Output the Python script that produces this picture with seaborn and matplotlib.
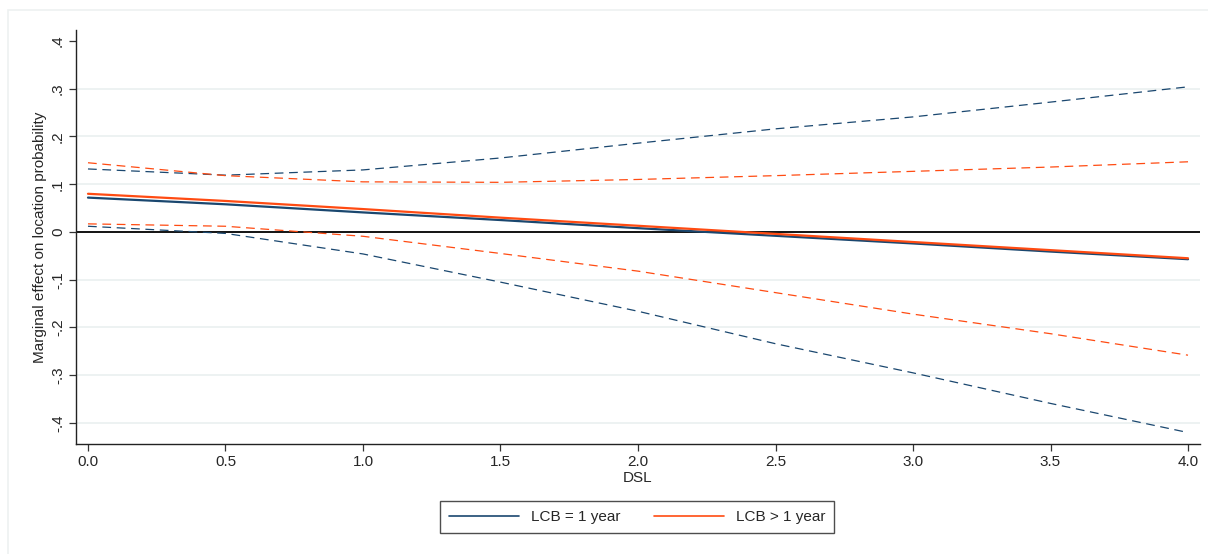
import matplotlib
matplotlib.use("Agg")
import matplotlib.pyplot as plt
from matplotlib.patches import Rectangle
import seaborn as sns
import pandas as pd

# ---- data ----
dsl = [0.0, 0.5, 1.0, 1.5, 2.0, 2.5, 3.0, 3.5, 4.0]
lcb1_me = [0.072, 0.058, 0.041, 0.025, 0.008, -0.008, -0.024, -0.041, -0.057]
lcb1_hi = [0.132, 0.119, 0.130, 0.155, 0.186, 0.216, 0.241, 0.272, 0.304]
lcb1_lo = [0.012, -0.003, -0.046, -0.105, -0.166, -0.234, -0.295, -0.359, -0.420]
lcb2_me = [0.080, 0.065, 0.048, 0.030, 0.013, -0.004, -0.021, -0.038, -0.055]
lcb2_hi = [0.145, 0.118, 0.105, 0.104, 0.110, 0.118, 0.127, 0.136, 0.147]
lcb2_lo = [0.017, 0.012, -0.009, -0.045, -0.082, -0.127, -0.172, -0.213, -0.258]
series_labels = ["LCB = 1 year", "LCB > 1 year"]
yticks = [-0.4, -0.3, -0.2, -0.1, 0.0, 0.1, 0.2, 0.3, 0.4]
ytick_labels = ["-.4", "-.3", "-.2", "-.1", "0", ".1", ".2", ".3", ".4"]
xticks = [0.0, 0.5, 1.0, 1.5, 2.0, 2.5, 3.0, 3.5, 4.0]

sns.set_theme(style="white")
plt.rcParams["font.family"] = ["Liberation Sans", "DejaVu Sans"]

BLUE = "#1a476f"
ORANGE = "#ff4b12"
FS = 11

fig = plt.figure(figsize=(12.08, 5.54), dpi=100)
ax = fig.add_axes([76 / 1208, 1 - 444 / 554, (1200 - 76) / 1208, (444 - 30) / 554])

# faint outer frame
fig.patches.append(Rectangle((8 / 1208, -0.01), 1.02, 1 - 10 / 554 + 0.01,
                             transform=fig.transFigure, fill=False,
                             edgecolor="#edf1f1", linewidth=1.2))

# gridlines
for yv in yticks[:-1]:
    if yv != 0:
        ax.axhline(yv, color="#eaf0f0", linewidth=1.2, zorder=0)
ax.axhline(0, color="black", linewidth=1.3, zorder=1)

dash = (7, 4.5)
for lo, hi, col in [(lcb1_lo, lcb1_hi, BLUE), (lcb2_lo, lcb2_hi, ORANGE)]:
    for s in (hi, lo):
        sns.lineplot(x=dsl, y=s, ax=ax, color=col, linewidth=0.9,
                     legend=False, zorder=2).lines[-1].set_dashes(dash)

sns.lineplot(x=dsl, y=lcb1_me, ax=ax, color=BLUE, linewidth=1.6,
             label=series_labels[0], zorder=3)
sns.lineplot(x=dsl, y=lcb2_me, ax=ax, color=ORANGE, linewidth=1.6,
             label=series_labels[1], zorder=3)

ax.set_xlim(-0.0436, 4.0436)
ax.set_ylim(-0.444, 0.423)
ax.set_xticks(xticks)
ax.set_xticklabels([f"{v:.1f}" for v in xticks], fontsize=FS)
ax.set_yticks(yticks)
ax.set_yticklabels(ytick_labels, fontsize=FS, rotation=90, va="center")
ax.tick_params(axis="both", which="both", direction="out", length=5, width=0.9,
               color="#333333", bottom=True, left=True, pad=3)
ax.grid(False)

for side in ("top", "right"):
    ax.spines[side].set_visible(False)
for side in ("left", "bottom"):
    ax.spines[side].set_color("#222222")
    ax.spines[side].set_linewidth(1.0)

ax.set_xlabel("DSL", fontsize=FS, labelpad=1)
ax.set_ylabel("Marginal effect on location probability", fontsize=FS, labelpad=3)

leg = ax.legend(loc="center", bbox_to_anchor=(637 / 1208, 37 / 554),
                bbox_transform=fig.transFigure, ncol=2, fontsize=FS,
                frameon=True, fancybox=False, handlelength=4.6,
                columnspacing=2.2, handletextpad=0.75, borderpad=0.6,
                borderaxespad=0)
leg.get_frame().set_edgecolor("#222222")
leg.get_frame().set_linewidth(1.0)
for h in leg.get_lines():
    h.set_linewidth(1.2)

fig.savefig("out.png", dpi=100, facecolor="white")
